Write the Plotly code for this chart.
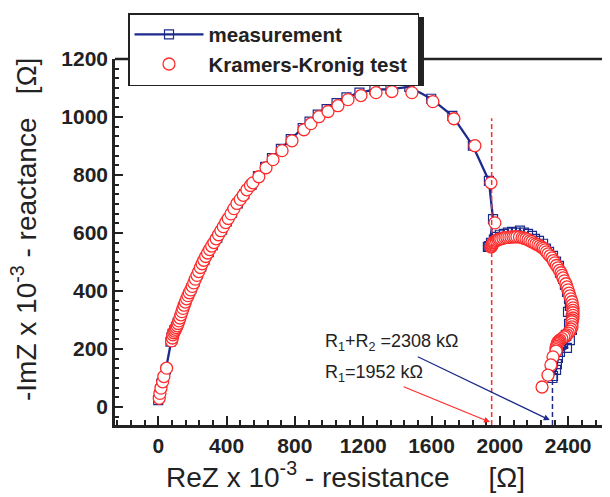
import plotly.graph_objects as go

# ---------------- data (values x10^3 Ohm) ----------------
meas_x = [0, 6, 11, 18, 28, 45, 72, 78, 84, 94, 104, 114, 124, 136, 148, 162, 178, 194,
          212, 232, 252, 272, 296, 320, 346, 374, 402, 432, 466, 504, 546, 584, 626, 666,
          718, 776, 846, 886, 934, 986, 1044, 1102, 1178, 1266, 1360, 1470, 1598, 1722,
          1842, 1936, 1960, 1938,
          1930, 1948, 1965, 1983, 2000, 2024, 2047, 2071, 2094, 2118, 2141, 2165, 2188,
          2206, 2229, 2253, 2270, 2288, 2311, 2329, 2346, 2352, 2370, 2381, 2393, 2405,
          2410, 2399, 2416, 2405, 2422, 2387, 2410, 2370, 2393, 2352, 2340, 2334, 2329,
          2311, 2308]
meas_y = [24, 42, 60, 80, 100, 130, 225, 240, 252, 264, 276, 290, 305, 325, 345, 366, 388, 408,
          432, 458, 484, 508, 534, 558, 584, 612, 640, 670, 702, 734, 766, 796, 828, 858,
          890, 924, 962, 984, 1008, 1027, 1048, 1068, 1084, 1094, 1096, 1104, 1063, 1004,
          901, 780, 648, 555,
          552, 566, 577, 587, 594, 597, 601, 604, 601, 608, 601, 597, 590,
          580, 573, 563, 546, 535, 521, 501, 487, 463, 442, 421, 397, 373,
          349, 328, 307, 287, 266, 249, 231, 218, 204, 190, 169, 148, 128,
          107, 100]

kk_x = [6, 10, 16, 26, 33, 49,
        78, 83, 86, 91, 96, 101, 106, 111, 116, 121, 127, 133, 139, 145, 152, 159, 166,
        174, 182, 190, 199, 208, 217, 227, 237, 247, 257, 267, 278, 289, 301, 313, 326,
        339, 353, 367, 381, 395, 410, 426, 443, 461, 480, 498, 519, 540, 554, 589, 631,
        672, 725, 783, 853, 894, 941, 994, 1052, 1111, 1187, 1275, 1368, 1485, 1608,
        1731, 1854, 1948, 1971,
        1948, 1951, 1954, 1957, 1960, 1965, 1971, 1980, 1989, 1997, 2006, 2018, 2030,
        2041, 2053, 2065, 2077, 2088, 2100, 2115, 2130, 2141, 2153, 2165, 2176, 2188,
        2200, 2211, 2223, 2234, 2246, 2255, 2264, 2273, 2282, 2293, 2305, 2313, 2322,
        2331, 2340, 2349, 2358, 2364, 2370, 2378, 2387, 2393, 2399, 2405, 2410, 2416,
        2422, 2425, 2428, 2428, 2428, 2428, 2428, 2425, 2422, 2422, 2422, 2416, 2410,
        2401, 2393, 2384, 2375, 2363, 2352, 2346, 2340, 2337, 2334, 2331, 2329, 2329,
        2329, 2311, 2299, 2282, 2247]
kk_y = [30, 47, 65, 87, 105, 134,
        228, 238, 249, 256, 262, 268, 274, 280, 288, 297, 307, 318, 329, 340, 351, 362, 373,
        384, 394, 404, 416, 428, 441, 454, 467, 481, 494, 506, 519, 531, 543, 555, 567,
        580, 594, 608, 622, 636, 650, 666, 684, 702, 716, 730, 749, 764, 773, 794, 825,
        853, 884, 918, 956, 977, 1001, 1019, 1039, 1060, 1074, 1084, 1088, 1084, 1053,
        994, 901, 773, 635,
        552, 555, 559, 562, 566, 568, 571, 574, 577, 579, 580, 582, 584,
        585, 585, 586, 587, 587, 587, 586, 584, 582, 580, 577, 573, 570,
        566, 562, 559, 555, 551, 547, 542, 535, 528, 521, 514, 505, 497,
        488, 480, 471, 463, 454, 445, 435, 425, 414, 404, 393, 383, 373,
        363, 352, 342, 333, 325, 316, 307, 300, 294, 285, 276, 269, 262,
        255, 249, 245, 242, 236, 231, 227, 224, 219, 214, 209, 204, 198,
        193, 173, 145, 110, 69]

R1 = 1952
R1R2 = 2308

x_range = [-253, 2639]
y_range = [-62, 1200]

BLUE = "#1c2a8c"
RED = "#ff2b2b"
FONT = "Liberation Sans, Arial, Helvetica, sans-serif"

# the page body adds an 8 px offset; figure is sized/placed to compensate
OFF = 8
W, H = 610 - OFF, 497 - OFF
ML, MR, MT, MB = 115 - OFF, 1, 59 - OFF, H - (425 - OFF)
PW, PH = W - ML - MR, H - MT - MB


def px2paper(px, py):
    """reference-image pixel -> paper coordinates"""
    return (px - OFF - ML) / PW, (H - MB - (py - OFF)) / PH


fig = go.Figure()

fig.add_trace(go.Scatter(
    x=meas_x, y=meas_y, mode="lines+markers", name="measurement",
    line=dict(color=BLUE, width=2.3),
    marker=dict(symbol="square-open", size=9, color=BLUE, line=dict(width=1.2, color=BLUE)),
))
fig.add_trace(go.Scatter(
    x=kk_x, y=kk_y, mode="markers", name="Kramers-Kronig test\u00a0",
    marker=dict(symbol="circle", size=12, color="white", line=dict(width=1.3, color=RED)),
))

# vertical dashed markers of R1 and R1+R2
fig.add_shape(type="line", x0=R1, x1=R1, y0=y_range[0], y1=996,
              line=dict(color=RED, width=1.5, dash="5px,3px"))
fig.add_shape(type="line", x0=R1R2, x1=R1R2, y0=y_range[0], y1=100,
              line=dict(color=BLUE, width=1.5, dash="5px,3px"))

# frame top and right
fig.add_shape(type="line", xref="paper", yref="paper", x0=0, x1=1, y0=1, y1=1,
              line=dict(color="#222", width=2.5))
fig.add_shape(type="line", xref="paper", yref="paper", x0=1, x1=1, y0=0, y1=1,
              line=dict(color="#999", width=1))

# legend shadow
sx0, sy0 = px2paper(133, 17)
sx1, sy1 = px2paper(424, 86)
fig.add_shape(type="rect", xref="paper", yref="paper", x0=sx0, x1=sx1, y0=sy1, y1=sy0,
              fillcolor="#222", line=dict(width=0), layer="above")

# arrows + text
fig.add_annotation(x=2292, y=-45, ax=1511, ay=176, axref="x", ayref="y", xref="x", yref="y",
                   text="", showarrow=True, arrowhead=2, arrowsize=1, arrowwidth=1.2,
                   arrowcolor=BLUE, standoff=0)
fig.add_annotation(x=1942, y=-52, ax=1428, ay=72, axref="x", ayref="y", xref="x", yref="y",
                   text="", showarrow=True, arrowhead=2, arrowsize=1, arrowwidth=1.2,
                   arrowcolor=RED, standoff=0)
fig.add_annotation(x=963, y=224, xref="x", yref="y", xanchor="left", yanchor="middle",
                   text="R<sub>1</sub>+R<sub>2</sub> =2308 kΩ", showarrow=False,
                   font=dict(family=FONT, size=18, color="#222"))
fig.add_annotation(x=963, y=117, xref="x", yref="y", xanchor="left", yanchor="middle",
                   text="R<sub>1</sub>=1952 kΩ", showarrow=False,
                   font=dict(family=FONT, size=18, color="#222"))

# axis titles
tx, ty = px2paper(345, 475)
fig.add_annotation(x=tx, y=ty, xref="paper", yref="paper",
                   xanchor="center", yanchor="middle", showarrow=False,
                   text="ReZ x 10<sup>-3</sup> - resistance\u00a0\u00a0\u00a0\u00a0 [Ω]",
                   font=dict(family=FONT, size=28, color="#222"))
tx, ty = px2paper(24, 230)
fig.add_annotation(x=tx, y=ty, xref="paper", yref="paper",
                   xanchor="center", yanchor="middle", showarrow=False, textangle=-90,
                   text="-ImZ x 10<sup>-3</sup> - reactance\u00a0\u00a0 [Ω]",
                   font=dict(family=FONT, size=28, color="#222"))

lx, ly = px2paper(128, 13)
fig.update_layout(
    width=W, height=H,
    margin=dict(l=ML, r=MR, t=MT, b=MB, autoexpand=False),
    paper_bgcolor="white", plot_bgcolor="white",
    showlegend=True,
    legend=dict(x=lx, y=ly, xanchor="left", yanchor="top",
                bgcolor="white", bordercolor="#222", borderwidth=1.5,
                font=dict(family=FONT, size=20.5, color="#222", weight="bold"),
                itemwidth=69, tracegroupgap=0),
    xaxis=dict(range=x_range, showgrid=False, zeroline=False,
               showline=True, linecolor="#222", linewidth=2.5,
               ticks="inside", ticklen=9, tickwidth=1.5, tickcolor="#222",
               dtick=400, tick0=0,
               minor=dict(dtick=80, tick0=0, ticks="inside", ticklen=5, tickwidth=1.5, tickcolor="#222"),
               tickfont=dict(family=FONT, size=21, color="#222", weight="bold")),
    yaxis=dict(range=y_range, showgrid=False, zeroline=False,
               showline=True, linecolor="#222", linewidth=2.5,
               ticks="inside", ticklen=8, tickwidth=1.5, tickcolor="#222",
               dtick=200, tick0=0,
               minor=dict(dtick=200 / 6, tick0=0, ticks="inside", ticklen=4, tickwidth=1.5, tickcolor="#222"),
               tickfont=dict(family=FONT, size=21, color="#222", weight="bold")),
)

fig.write_html("out.html")
